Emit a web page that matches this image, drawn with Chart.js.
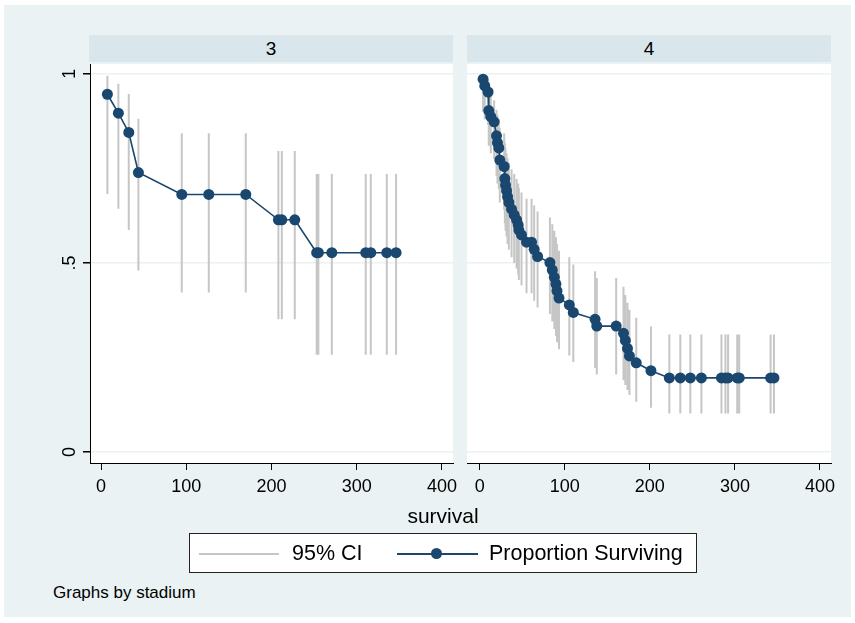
<!DOCTYPE html>
<html>
<head>
<meta charset="utf-8">
<script src="https://cdn.jsdelivr.net/npm/chart.js@4.4.1/dist/chart.umd.min.js"></script>
<style>
body{margin:0;background:#fff;font-family:"Liberation Sans",Arial,sans-serif;color:#000;}
#bg{position:absolute;left:4px;top:5px;width:847px;height:612px;background:#eaf2f3;}
.strip{position:absolute;top:35px;height:27px;width:364px;background:#d9e6eb;text-align:center;line-height:27px;font-size:19px;}
canvas{position:absolute;}
#xtitle{position:absolute;left:343px;width:200px;top:503px;text-align:center;font-size:21px;line-height:26px;}
#legend{position:absolute;left:189px;top:533px;width:508px;height:40px;box-sizing:border-box;border:1px solid #222;background:#fff;}
#legend .ln{position:absolute;top:19px;height:2px;}
#legend span{position:absolute;top:0;line-height:38px;font-size:21.5px;white-space:nowrap;}
#legend .dot{position:absolute;top:14px;width:11px;height:11px;border-radius:50%;background:#1a476f;}
#note{position:absolute;left:53px;top:583px;font-size:17px;line-height:20px;}
</style>
</head>
<body>
<div id="bg"></div>
<div class="strip" style="left:89px">3</div>
<div class="strip" style="left:467px">4</div>
<canvas id="c3" width="430" height="444" style="left:40px;top:64px"></canvas>
<canvas id="c4" width="390" height="444" style="left:460px;top:64px"></canvas>
<div id="xtitle">survival</div>
<div id="legend">
  <div class="ln" style="left:9px;width:80px;background:#c6c6c6"></div>
  <span style="left:102px">95% CI</span>
  <div class="ln" style="left:207px;width:81px;background:#1a476f"></div>
  <div class="dot" style="left:241px"></div>
  <span style="left:299px">Proportion Surviving</span>
</div>
<div id="note">Graphs by stadium</div>
<script>
'use strict';
const xTicks=[0,100,200,300,400];
const yTicks=[0,0.5,1];
const yLabels=['0','.5','1'];

// stadium 3
const time3=[7.4,20.3,32.5,43.8,94.7,126.4,169.8,208.1,212.1,227.3,253,255,270.8,310.6,316.5,335.3,346.2];
const surv3=[0.946,0.896,0.845,0.739,0.681,0.681,0.681,0.614,0.614,0.614,0.527,0.527,0.527,0.527,0.527,0.527,0.527];
const lo3=[0.682,0.643,0.587,0.480,0.422,0.422,0.422,0.351,0.351,0.351,0.257,0.257,0.257,0.257,0.257,0.257,0.257];
const hi3=[0.995,0.974,0.947,0.881,0.843,0.843,0.843,0.796,0.796,0.796,0.735,0.735,0.735,0.735,0.735,0.735,0.735];

// stadium 4
const time4=[3.9,5.9,9.8,10.6,13.0,16.9,19.7,20.8,22.4,23.6,
  28.7,29.5,30.3,31.5,32.7,34.2,37.4,40.5,43.3,45.2,
  46.0,49.1,55.0,60.9,64.0,68.0,82.5,85.3,87.7,89.6,
  90.8,93.2,105.3,110.0,135.6,137.6,160.4,169.0,171.2,173.7,
  176.0,184.0,201.3,222.9,235.8,247.6,260.6,284.2,288.9,292.0,
  302.7,305.1,342.0,345.9];
const surv4=[0.986,0.968,0.952,0.903,0.887,0.873,0.836,0.818,0.804,0.772,
  0.755,0.723,0.706,0.691,0.675,0.660,0.642,0.627,0.614,0.600,
  0.587,0.574,0.555,0.555,0.536,0.517,0.501,0.481,0.462,0.444,
  0.426,0.407,0.389,0.369,0.351,0.333,0.333,0.314,0.295,0.274,
  0.254,0.236,0.215,0.196,0.196,0.196,0.196,0.196,0.196,0.196,
  0.196,0.196,0.196,0.196];
const lo4=[0.900,0.880,0.865,0.810,0.790,0.775,0.730,0.710,0.695,0.660,
  0.640,0.605,0.585,0.570,0.550,0.535,0.515,0.500,0.485,0.470,
  0.455,0.440,0.420,0.420,0.400,0.382,0.365,0.345,0.325,0.307,
  0.290,0.272,0.255,0.238,0.222,0.205,0.205,0.190,0.177,0.164,
  0.151,0.133,0.117,0.102,0.102,0.102,0.102,0.102,0.102,0.102,
  0.102,0.102,0.102,0.102];
const hi4=[0.998,0.992,0.984,0.951,0.940,0.930,0.905,0.892,0.880,0.856,
  0.843,0.818,0.803,0.790,0.777,0.764,0.748,0.735,0.722,0.710,
  0.698,0.686,0.670,0.670,0.652,0.636,0.620,0.602,0.585,0.568,
  0.550,0.532,0.515,0.496,0.478,0.460,0.460,0.437,0.415,0.395,
  0.376,0.355,0.332,0.311,0.311,0.311,0.311,0.311,0.311,0.311,
  0.311,0.311,0.311,0.311];

const fam='"Liberation Sans", Arial, sans-serif';
const navy='#1a476f';
const ciGray='#c6c6c6';

// white plot region
const plotBg={
  id:'plotBg',
  beforeDraw(chart){
    const a=chart.chartArea;
    const ctx=chart.ctx;
    ctx.save();
    ctx.fillStyle='#fff';
    ctx.fillRect(a.left,a.top,a.right-a.left,a.bottom-a.top);
    ctx.restore();
  }
};

function ciPoints(t,lo,hi){
  let pts=[];
  for(let i=0;i<t.length;i++){
    pts.push({x:t[i],y:lo[i]});
    pts.push({x:t[i],y:hi[i]});
    pts.push({x:t[i],y:null});
  }
  return pts;
}

function makeChart(id,t,s,lo,hi,showY,xMin){
  const ctx=document.getElementById(id).getContext('2d');
  return new Chart(ctx,{
    type:'line',
    data:{
      datasets:[{
        label:'Proportion Surviving',
        data:t.map((x,i)=>({x:x,y:s[i]})),
        borderColor:navy,
        borderWidth:1.6,
        pointRadius:5.5,
        pointBackgroundColor:navy,
        pointBorderWidth:0,
        tension:0
      },{
        label:'95% CI',
        data:ciPoints(t,lo,hi),
        borderColor:ciGray,
        borderWidth:2,
        pointRadius:0,
        spanGaps:false
      }]
    },
    options:{
      responsive:false,
      animation:false,
      events:[],
      layout:{autoPadding:false,padding:{left:showY?0:7,right:showY?17:19,top:0,bottom:0}},
      plugins:{legend:{display:false},tooltip:{enabled:false}},
      scales:{
        x:{
          type:'linear',min:xMin,max:413,
          afterBuildTicks:sc=>{sc.ticks=xTicks.map(v=>({value:v}));},
          afterFit:sc=>{sc.height=45;sc.paddingLeft=0;sc.paddingRight=0;},
          grid:{drawOnChartArea:false,tickLength:7,color:'#000',lineWidth:1},
          border:{color:'#000',width:1},
          ticks:{color:'#000',padding:6,maxRotation:0,font:{family:fam,size:18}}
        },
        y:{
          type:'linear',min:-0.029,max:1.026,
          afterBuildTicks:sc=>{sc.ticks=yTicks.map(v=>({value:v}));},
          afterFit:sc=>{sc.width=showY?50:0;sc.paddingTop=0;sc.paddingBottom=0;},
          grid:{color:'#eaf2f3',lineWidth:1.5,drawTicks:showY,tickLength:7,tickColor:'#000'},
          border:{display:showY,color:'#000',width:1},
          ticks:{
            display:showY,color:'#000',padding:5,
            minRotation:90,maxRotation:90,crossAlign:'center',
            font:{family:fam,size:18},
            callback:(v,i)=>yLabels[i]
          }
        }
      }
    },
    plugins:[plotBg]
  });
}

makeChart('c3',time3,surv3,lo3,hi3,true,-13);
makeChart('c4',time4,surv4,lo4,hi4,false,-15);
</script>
</body>
</html>
